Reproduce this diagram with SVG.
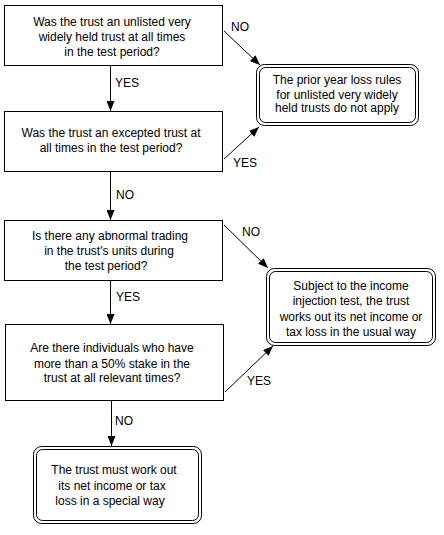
<svg xmlns="http://www.w3.org/2000/svg" width="444" height="535" viewBox="0 0 444 535">
<style>
.box{fill:#fff;stroke:#000;stroke-width:1}
.r{fill:none;stroke:#000;stroke-width:1}
text{font-family:"Liberation Sans",Arial,sans-serif;font-size:12px;fill:#000;text-anchor:middle}
.lbl{text-anchor:start}
.c{stroke:#000;stroke-width:1;fill:none}
</style>
<defs>
<marker id="ah" markerWidth="10" markerHeight="8" refX="10" refY="4" orient="auto" markerUnits="userSpaceOnUse">
<path d="M0,0 L10,4 L0,8 Z" fill="#000"/>
</marker>
</defs>
<rect width="444" height="535" fill="#fff"/>
<g id="connectors">
<line class="c" x1="110.5" y1="65" x2="110.5" y2="111" marker-end="url(#ah)"/>
<line class="c" x1="110.5" y1="172" x2="110.5" y2="220" marker-end="url(#ah)"/>
<line class="c" x1="110.5" y1="281" x2="110.5" y2="324" marker-end="url(#ah)"/>
<line class="c" x1="111.5" y1="401" x2="111.5" y2="446" marker-end="url(#ah)"/>
<line class="c" x1="224" y1="31" x2="260" y2="65" marker-end="url(#ah)"/>
<line class="c" x1="224" y1="159" x2="259" y2="127" marker-end="url(#ah)"/>
<line class="c" x1="224" y1="225" x2="268" y2="268" marker-end="url(#ah)"/>
<line class="c" x1="225" y1="392" x2="273" y2="346" marker-end="url(#ah)"/>
<text class="lbl" x="231" y="31">NO</text>
<text class="lbl" x="115" y="87">YES</text>
<text class="lbl" x="233" y="167">YES</text>
<text class="lbl" x="116" y="199">NO</text>
<text class="lbl" x="242" y="236">NO</text>
<text class="lbl" x="116" y="301">YES</text>
<text class="lbl" x="247" y="385">YES</text>
<text class="lbl" x="115" y="425">NO</text>
</g>
<g id="q1">
<rect class="box" x="4.5" y="5.5" width="218" height="60"/>
<text x="112" y="26">Was the trust an unlisted very</text>
<text x="112" y="41">widely held trust at all times</text>
<text x="112" y="56">in the test period?</text>
</g>
<g id="q2">
<rect class="box" x="4.5" y="111.5" width="218" height="60"/>
<text x="111" y="137">Was the trust an excepted trust at</text>
<text x="111" y="152">all times in the test period?</text>
</g>
<g id="q3">
<rect class="box" x="4.5" y="220.5" width="218" height="60"/>
<text x="110" y="240">Is there any abnormal trading</text>
<text x="109" y="255">in the trust's units during</text>
<text x="106" y="270">the test period?</text>
</g>
<g id="q4">
<rect class="box" x="5.5" y="324.5" width="218" height="76"/>
<text x="112" y="352">Are there individuals who have</text>
<text x="112" y="368">more than a 50% stake in the</text>
<text x="112" y="382">trust at all relevant times?</text>
</g>
<g id="r1">
<rect class="r" x="256.5" y="64.5" width="162" height="61" rx="8"/>
<rect class="r" x="259.5" y="67.5" width="156" height="55" rx="6"/>
<text x="337" y="84">The prior year loss rules</text>
<text x="337" y="99">for unlisted very widely</text>
<text x="337" y="112">held trusts do not apply</text>
</g>
<g id="r2">
<rect class="r" x="266.5" y="268.5" width="169" height="77" rx="8"/>
<rect class="r" x="269.5" y="271.5" width="163" height="71" rx="6"/>
<text x="351" y="290">Subject to the income</text>
<text x="351" y="305">injection test, the trust</text>
<text x="351" y="321">works out its net income or</text>
<text x="351" y="336">tax loss in the usual way</text>
</g>
<g id="r3">
<rect class="r" x="33.5" y="446.5" width="168" height="77" rx="8"/>
<rect class="r" x="36.5" y="449.5" width="162" height="71" rx="6"/>
<text x="114" y="474">The trust must work out</text>
<text x="112" y="490">its net income or tax</text>
<text x="110" y="505">loss in a special way</text>
</g>
</svg>
